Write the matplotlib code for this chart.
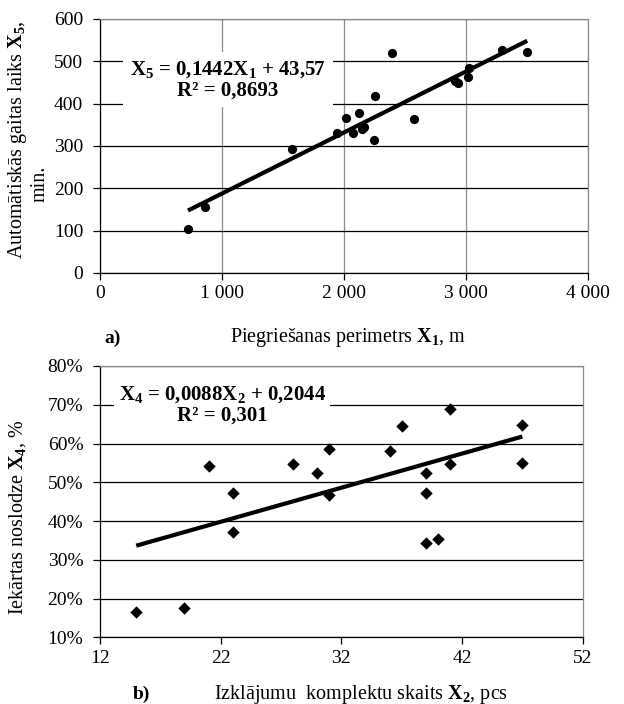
import matplotlib
matplotlib.use("Agg")
import matplotlib.pyplot as plt
import numpy as np
from matplotlib.ticker import FixedLocator

plt.rcParams['font.family'] = ['Liberation Serif', 'DejaVu Serif']
plt.rcParams['mathtext.fontset'] = 'custom'
plt.rcParams['mathtext.rm'] = 'Liberation Serif'
plt.rcParams['mathtext.bf'] = 'Liberation Serif:bold'
plt.rcParams['mathtext.it'] = 'Liberation Serif:italic'

# ---- data: panel a ----
x1_perimeter = [721, 861, 1576, 1945, 2016, 2071, 2125, 2145, 2164, 2246, 2257,
                2390, 2574, 2910, 2937, 3014, 3025, 3298, 3502]
x5_time = [103, 157, 292, 331, 365, 331, 379, 339, 346, 314, 417,
           520, 363, 454, 448, 462, 485, 527, 522]
a_slope, a_intercept = 0.1442, 43.57
a_xticks = [0, 1000, 2000, 3000, 4000]
a_xticklabels = ['0', '1 000', '2 000', '3 000', '4 000']
a_yticks = [0, 100, 200, 300, 400, 500, 600]
a_yticklabels = ['0', '100', '200', '300', '400', '500', '600']

# ---- data: panel b ----
x2_sets = [15, 19, 21, 23, 23, 28, 30, 31, 31, 36, 37, 39, 39, 39, 40, 41, 41, 47, 47]
x4_load = [0.164, 0.175, 0.542, 0.473, 0.371, 0.547, 0.523, 0.585, 0.467, 0.580,
           0.645, 0.523, 0.473, 0.344, 0.353, 0.688, 0.547, 0.649, 0.550]
b_slope, b_intercept = 0.0088, 0.2044
b_xticks = [12, 22, 32, 42, 52]
b_xticklabels = ['12', '22', '32', '42', '52']
b_yticks = [0.1, 0.2, 0.3, 0.4, 0.5, 0.6, 0.7, 0.8]
b_yticklabels = ['10%', '20%', '30%', '40%', '50%', '60%', '70%', '80%']

W, H = 624, 704
fig = plt.figure(figsize=(W / 100, H / 100), dpi=100)

TICK_FS = 14
LABEL_FS = 14.5
EQ_FS = 15

def style_axes(ax):
    ax.spines['left'].set_color('black')
    ax.spines['bottom'].set_color('black')
    ax.spines['top'].set_color('#8c8c8c')
    ax.spines['right'].set_color('#8c8c8c')
    for s in ax.spines.values():
        s.set_linewidth(0.9)
    ax.tick_params(direction='out', length=5, width=0.9, labelsize=TICK_FS,
                   colors='black')
    ax.tick_params(axis='y', pad=7)
    ax.tick_params(axis='x', pad=4)
    ax.set_axisbelow(True)

# ---- panel a ----
ax1 = fig.add_axes([100 / W, 1 - 273 / H, 488 / W, 254 / H])
ax1.set_xlim(0, 4000)
ax1.set_ylim(0, 600)
ax1.xaxis.set_major_locator(FixedLocator(a_xticks))
ax1.set_xticklabels(a_xticklabels)
ax1.yaxis.set_major_locator(FixedLocator(a_yticks))
ax1.set_yticklabels(a_yticklabels)
ax1.grid(axis='y', color='black', linewidth=0.9)
ax1.grid(axis='x', color='#8c8c8c', linewidth=0.9)
style_axes(ax1)
ax1.scatter(x1_perimeter, x5_time, s=44, color='black', marker='o', zorder=3,
            linewidths=0)
xa = np.array([min(x1_perimeter), max(x1_perimeter)])
ax1.plot(xa, a_slope * xa + a_intercept, color='black', lw=3.0, zorder=4,
         solid_capstyle='butt')
ax1.text(0.262, 0.76,
         'X$_\\mathbf{5}$ = 0,1442X$_\\mathbf{1}$ + 43,57\nR² = 0,8693',
         transform=ax1.transAxes, ha='center', va='center', fontsize=EQ_FS,
         fontweight='bold', linespacing=1.0, zorder=5,
         bbox=dict(facecolor='white', edgecolor='none', pad=5))

fig.text(18 / W, 1 - 140 / H, 'Automātiskās gaitas laiks $\\mathbf{X_5}$,',
         rotation=90, ha='center', va='center', fontsize=LABEL_FS)
fig.text(40 / W, 1 - 184 / H, 'min.', rotation=90, ha='center', va='center',
         fontsize=LABEL_FS)
fig.text(113 / W, 1 - 338 / H, 'a)', ha='center', va='center', fontsize=14,
         fontweight='bold')
fig.text(348 / W, 1 - 337 / H, 'Piegriešanas perimetrs $\\mathbf{X_1}$, m',
         ha='center', va='center', fontsize=LABEL_FS)

# ---- panel b ----
ax2 = fig.add_axes([100 / W, 1 - 637.3 / H, 482.7 / W, 271.3 / H])
ax2.set_xlim(12, 52)
ax2.set_ylim(0.1, 0.8)
ax2.xaxis.set_major_locator(FixedLocator(b_xticks))
ax2.set_xticklabels(b_xticklabels)
ax2.yaxis.set_major_locator(FixedLocator(b_yticks))
ax2.set_yticklabels(b_yticklabels)
ax2.grid(axis='y', color='black', linewidth=0.9)
ax2.grid(axis='x', visible=False)
style_axes(ax2)
ax2.scatter(x2_sets, x4_load, s=40, color='black', marker='D', zorder=3,
            linewidths=0)
xb = np.array([min(x2_sets), max(x2_sets)])
ax2.plot(xb, b_slope * xb + b_intercept, color='black', lw=3.0, zorder=4,
         solid_capstyle='butt')
ax2.text(0.253, 0.856,
         'X$_\\mathbf{4}$ = 0,0088X$_\\mathbf{2}$ + 0,2044\nR² = 0,301',
         transform=ax2.transAxes, ha='center', va='center', fontsize=EQ_FS,
         fontweight='bold', linespacing=1.0, zorder=5,
         bbox=dict(facecolor='white', edgecolor='none', pad=3))

fig.text(18 / W, 1 - 517 / H, 'Iekārtas noslodze $\\mathbf{X_4}$, %',
         rotation=90, ha='center', va='center', fontsize=LABEL_FS)
fig.text(141 / W, 1 - 694 / H, 'b)', ha='center', va='center', fontsize=14,
         fontweight='bold')
fig.text(361 / W, 1 - 694 / H, 'Izklājumu  komplektu skaits $\\mathbf{X_2}$, pcs',
         ha='center', va='center', fontsize=LABEL_FS)

fig.savefig('out.png', dpi=100)
